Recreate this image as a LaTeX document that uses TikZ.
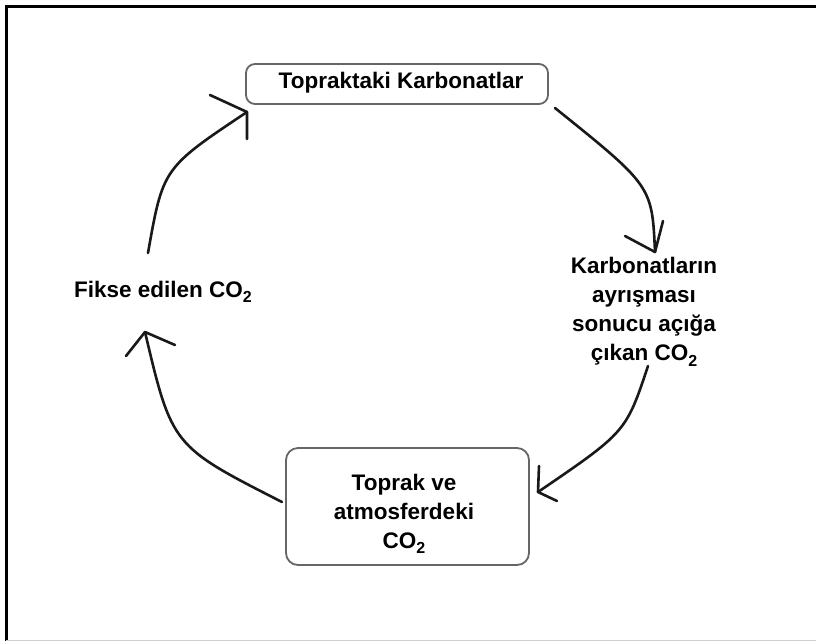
\documentclass[tikz,border=0pt]{standalone}
\usepackage{fontspec}
\setmainfont{Liberation Sans}
\newcommand\subtwo{\raisebox{-5.5pt}{\fontsize{16}{16}\selectfont 2}}
\begin{document}
\begin{tikzpicture}[x=1pt,y=-1pt,
  lbl/.style={font=\fontsize{22.5}{29}\selectfont\bfseries, align=center, inner sep=0pt},
  cbox/.style={draw=black!60, line width=1.8pt, fill=white, inner sep=0pt},
  arr/.style={line width=2.6pt, line cap=round, line join=round, black!90}]
\useasboundingbox (0,0) rectangle (816,641);
% frame
\draw[line width=3pt] (6,641) -- (6,6) -- (816,6);
\draw[black!18, line width=1.2pt] (6,640.5) -- (816,640.5);
% nodes
\node[cbox, rounded corners=9pt, minimum width=302pt, minimum height=40pt] (top) at (397,84) {};
\node[lbl] (toptxt) at (401,83) {Topraktaki Karbonatlar};
\node[cbox, rounded corners=12pt, minimum width=243pt, minimum height=117pt] (bot) at (407.5,506.5) {};
\node[lbl] (bottxt) at (404,514) {Toprak ve\\atmosferdeki\\CO\subtwo};
\node[lbl] (right) at (644,312) {Karbonatların\\ayrışması\\sonucu açığa\\çıkan CO\subtwo};
\node[lbl] (left) at (163,292) {Fikse edilen CO\subtwo};
% arrow 1
\coordinate (a1s) at (555,108); \coordinate (a1t) at (655,252);
\draw[arr] (a1s) .. controls (652,186) .. (a1t);
\draw[arr] (625,236) -- (a1t) -- (663,221);
% arrow 2
\coordinate (a2s) at (648,366); \coordinate (a2t) at (538,492);
\draw[arr] (a2s) .. controls (626,432) .. (a2t);
\draw[arr] (539,466) -- (a2t) -- (557,501);
% arrow 3
\coordinate (a3s) at (282,502); \coordinate (a3t) at (145,332);
\draw[arr] (a3s) .. controls (172,446) .. (a3t);
\draw[arr] (126,356) -- (a3t) -- (175,345);
% arrow 4
\coordinate (a4s) at (148,253); \coordinate (a4t) at (247,112);
\draw[arr] (a4s) .. controls (163,168) .. (a4t);
\draw[arr] (210,95) -- (a4t) -- (247,139);
\end{tikzpicture}
\end{document}
